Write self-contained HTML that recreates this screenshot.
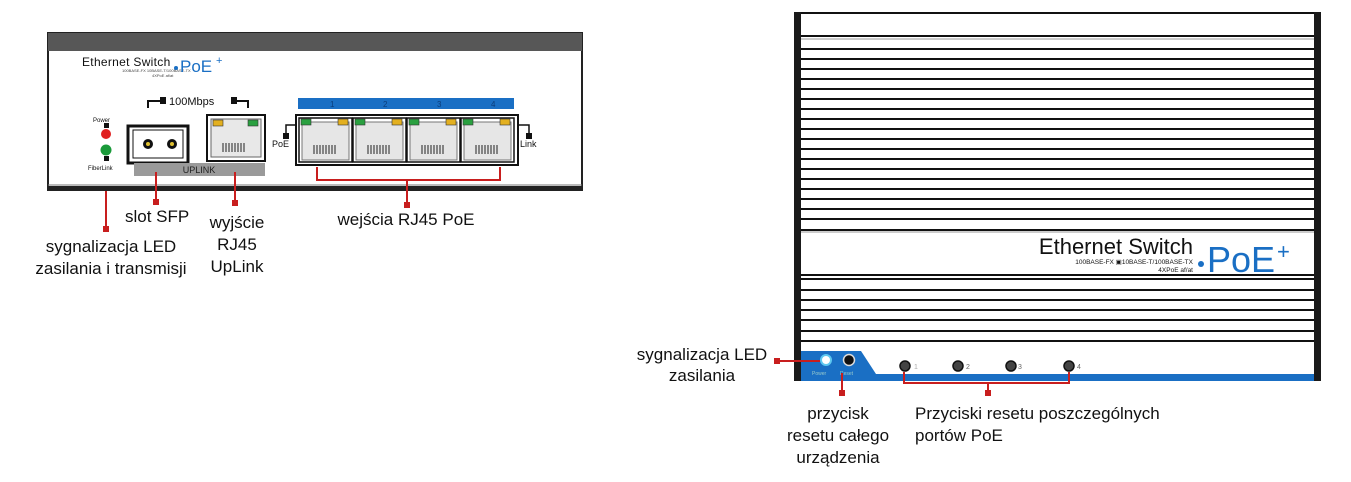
<!DOCTYPE html>
<html><head><meta charset="utf-8"><style>
html,body{margin:0;padding:0;background:#fff;width:1351px;height:482px;overflow:hidden}
svg{display:block}
text{font-family:"Liberation Sans",Arial,sans-serif}
</style></head><body>
<svg width="1351" height="482" viewBox="0 0 1351 482" xmlns="http://www.w3.org/2000/svg">
<!-- LEFT PANEL -->
<rect x="48" y="33" width="534" height="157" fill="#fff" stroke="#222" stroke-width="2"/>
<rect x="48" y="33" width="534" height="18" fill="#575757"/>
<line x1="48" y1="185" x2="582" y2="185" stroke="#777" stroke-width="1"/>
<rect x="48" y="186" width="534" height="4" fill="#222"/>
<text x="82" y="66" font-size="12" fill="#111" letter-spacing="0.3">Ethernet Switch</text>
<text x="122" y="72" font-size="4" fill="#444">100BASE-FX 10BASE-T/100BASE-TX</text>
<text x="152" y="77" font-size="4" fill="#444">4XPoE af/at</text>
<circle cx="176" cy="68" r="2" fill="#1a6fc4"/>
<text x="180" y="72" font-size="17" fill="#1a6fc4">PoE</text>
<text x="216" y="64" font-size="11" fill="#1a6fc4">+</text>
<!-- 100Mbps bracket -->
<polyline points="148,108 148,101 160,101" fill="none" stroke="#111" stroke-width="2"/>
<rect x="160" y="97" width="6" height="7" fill="#111"/>
<text x="169" y="105" font-size="11" fill="#111">100Mbps</text>
<rect x="231" y="97" width="6" height="7" fill="#111"/>
<polyline points="237,101 248,101 248,108" fill="none" stroke="#111" stroke-width="2"/>
<!-- LEDs -->
<text x="93" y="122" font-size="6" fill="#111">Power</text>
<rect x="104" y="123" width="5" height="5" fill="#111"/>
<circle cx="106" cy="134" r="5" fill="#e02020"/>
<circle cx="106" cy="150" r="5.5" fill="#1a9a3a"/>
<rect x="104" y="156" width="5" height="5" fill="#111"/>
<text x="88" y="170" font-size="6" fill="#111">FiberLink</text>
<!-- SFP -->
<rect x="128" y="126" width="60" height="37" fill="#fff" stroke="#111" stroke-width="3"/>
<rect x="133" y="130" width="50" height="28" fill="#fff" stroke="#111" stroke-width="1"/>
<circle cx="148" cy="144" r="5" fill="#111"/><circle cx="148" cy="144" r="2" fill="#e0c030"/>
<circle cx="172" cy="144" r="5" fill="#111"/><circle cx="172" cy="144" r="2" fill="#e0c030"/>
<!-- Uplink RJ45 -->
<rect x="207" y="115" width="58" height="46" fill="#fff" stroke="#111" stroke-width="2"/>
<rect x="211" y="119" width="50" height="38" fill="#e8e8e8" stroke="#666"/>
<rect x="213" y="120" width="10" height="6" fill="#e3b020" stroke="#333" stroke-width=".6"/>
<rect x="248" y="120" width="10" height="6" fill="#2aa040" stroke="#333" stroke-width=".6"/>
<g stroke="#222" stroke-width="1"><line x1="223" y1="143" x2="223" y2="152"/><line x1="226" y1="143" x2="226" y2="152"/><line x1="229" y1="143" x2="229" y2="152"/><line x1="232" y1="143" x2="232" y2="152"/><line x1="235" y1="143" x2="235" y2="152"/><line x1="238" y1="143" x2="238" y2="152"/><line x1="241" y1="143" x2="241" y2="152"/><line x1="244" y1="143" x2="244" y2="152"/></g>
<rect x="134" y="163" width="131" height="13" fill="#9a9a9a"/>
<text x="199" y="173" font-size="9" fill="#222" text-anchor="middle">UPLINK</text>
<!-- Blue port number bar -->
<rect x="298" y="98" width="216" height="11" fill="#1a6fc4"/>
<text x="330" y="107" font-size="8" fill="#0b3d7a">1</text>
<text x="383" y="107" font-size="8" fill="#0b3d7a">2</text>
<text x="437" y="107" font-size="8" fill="#0b3d7a">3</text>
<text x="491" y="107" font-size="8" fill="#0b3d7a">4</text>
<!-- PoE ports -->
<rect x="296" y="115" width="222" height="50" fill="#fff" stroke="#111" stroke-width="2"/>
<g id="p">
<rect x="299" y="118" width="53" height="44" fill="#fff" stroke="#111" stroke-width="1.5"/>
<rect x="302" y="122" width="47" height="38" fill="#e6e6e6" stroke="#777"/>
<rect x="301" y="119" width="10" height="6" fill="#2aa040" stroke="#333" stroke-width=".6"/>
<rect x="338" y="119" width="10" height="6" fill="#e3b020" stroke="#333" stroke-width=".6"/>
<g stroke="#222"><line x1="314" y1="145" x2="314" y2="154"/><line x1="317" y1="145" x2="317" y2="154"/><line x1="320" y1="145" x2="320" y2="154"/><line x1="323" y1="145" x2="323" y2="154"/><line x1="326" y1="145" x2="326" y2="154"/><line x1="329" y1="145" x2="329" y2="154"/><line x1="332" y1="145" x2="332" y2="154"/><line x1="335" y1="145" x2="335" y2="154"/></g>
</g>
<use href="#p" x="54"/><use href="#p" x="108"/><use href="#p" x="162"/>
<polyline points="296,125 286,125 286,135" fill="none" stroke="#111" stroke-width="1.5"/>
<rect x="283" y="133" width="6" height="6" fill="#111"/>
<text x="272" y="147" font-size="9" fill="#111">PoE</text>
<polyline points="518,125 529,125 529,135" fill="none" stroke="#111" stroke-width="1.5"/>
<rect x="526" y="133" width="6" height="6" fill="#111"/>
<text x="520" y="147" font-size="9" fill="#111">Link</text>
<!-- red connectors left -->
<g stroke="#c81e1e" stroke-width="2" fill="none">
<line x1="106" y1="191" x2="106" y2="228"/>
<line x1="156" y1="172" x2="156" y2="201"/>
<line x1="235" y1="172" x2="235" y2="201"/>
<polyline points="317,167 317,180 500,180 500,167"/>
<line x1="407" y1="180" x2="407" y2="203"/>
</g>
<g fill="#c81e1e">
<rect x="103" y="226" width="6" height="6"/>
<rect x="153" y="199" width="6" height="6"/>
<rect x="232" y="200" width="6" height="6"/>
<rect x="404" y="202" width="6" height="6"/>
</g>
<g font-size="17" fill="#111">
<text x="125" y="222">slot SFP</text>
<text x="237" y="228" text-anchor="middle">wyjście</text>
<text x="237" y="250" text-anchor="middle">RJ45</text>
<text x="237" y="272" text-anchor="middle">UpLink</text>
<text x="111" y="252" text-anchor="middle">sygnalizacja LED</text>
<text x="111" y="274" text-anchor="middle">zasilania i transmisji</text>
<text x="406" y="225" text-anchor="middle">wejścia RJ45 PoE</text>
</g>
<!-- RIGHT PANEL -->
<rect x="794" y="12" width="528" height="369" fill="#fff"/>
<g stroke="#111" stroke-width="2">
<line x1="800" y1="13" x2="1315" y2="13"/>
<line x1="800" y1="36" x2="1315" y2="36"/>
<line x1="800" y1="49" x2="1315" y2="49"/><line x1="800" y1="59" x2="1315" y2="59"/>
<line x1="800" y1="69" x2="1315" y2="69"/><line x1="800" y1="79" x2="1315" y2="79"/>
<line x1="800" y1="89" x2="1315" y2="89"/><line x1="800" y1="99" x2="1315" y2="99"/>
<line x1="800" y1="109" x2="1315" y2="109"/><line x1="800" y1="119" x2="1315" y2="119"/>
<line x1="800" y1="129" x2="1315" y2="129"/><line x1="800" y1="139" x2="1315" y2="139"/>
<line x1="800" y1="149" x2="1315" y2="149"/><line x1="800" y1="159" x2="1315" y2="159"/>
<line x1="800" y1="169" x2="1315" y2="169"/><line x1="800" y1="179" x2="1315" y2="179"/>
<line x1="800" y1="189" x2="1315" y2="189"/><line x1="800" y1="199" x2="1315" y2="199"/>
<line x1="800" y1="209" x2="1315" y2="209"/><line x1="800" y1="219" x2="1315" y2="219"/>
<line x1="800" y1="230" x2="1315" y2="230"/>
<line x1="800" y1="275" x2="1315" y2="275"/><line x1="800" y1="279" x2="1315" y2="279"/>
<line x1="800" y1="290" x2="1315" y2="290"/><line x1="800" y1="300" x2="1315" y2="300"/>
<line x1="800" y1="310" x2="1315" y2="310"/><line x1="800" y1="320" x2="1315" y2="320"/>
<line x1="800" y1="331" x2="1315" y2="331"/><line x1="800" y1="341" x2="1315" y2="341"/>
</g>
<g stroke="#999" stroke-width="1">
<line x1="800" y1="39" x2="1315" y2="39"/><line x1="800" y1="232" x2="1315" y2="232"/>
</g>
<rect x="794" y="12" width="7" height="369" fill="#1a1a1a"/>
<rect x="1314" y="12" width="7" height="369" fill="#1a1a1a"/>
<text x="1193" y="254" font-size="22" fill="#111" text-anchor="end">Ethernet Switch</text>
<text x="1193" y="264" font-size="6.5" fill="#111" text-anchor="end">100BASE-FX ▣10BASE-T/100BASE-TX</text>
<text x="1193" y="272" font-size="6.5" fill="#111" text-anchor="end">4XPoE af/at</text>
<circle cx="1201" cy="264" r="3" fill="#1a6fc4"/>
<text x="1207" y="272" font-size="36" fill="#1a6fc4">PoE</text>
<text x="1277" y="259" font-size="22" fill="#1a6fc4">+</text>
<!-- blue band -->
<polygon points="801,351 861,351 876,374 1314,374 1314,381 801,381" fill="#1a6fc4"/>
<circle cx="826" cy="360" r="5" fill="#fff" stroke="#5ec8f0" stroke-width="2"/>
<circle cx="849" cy="360" r="5.5" fill="#111" stroke="#ddd" stroke-width="1.5"/>
<text x="812" y="375" font-size="5" fill="#9cc">Power</text>
<text x="840" y="375" font-size="5" fill="#9cc">Reset</text>
<g fill="#444" stroke="#111" stroke-width="1.5">
<circle cx="905" cy="366" r="5"/><circle cx="958" cy="366" r="5"/>
<circle cx="1011" cy="366" r="5"/><circle cx="1069" cy="366" r="5"/>
</g>
<g font-size="7" fill="#666"><text x="914" y="369" fill="#aaa">1</text><text x="966" y="369">2</text><text x="1018" y="369">3</text><text x="1077" y="369">4</text></g>
<g stroke="#c81e1e" stroke-width="2" fill="none">
<line x1="778" y1="361" x2="820" y2="361"/>
<line x1="842" y1="373" x2="842" y2="392"/>
<polyline points="904,372 904,383 1069,383 1069,372"/>
<line x1="988" y1="383" x2="988" y2="392"/>
</g>
<g fill="#c81e1e">
<rect x="774" y="358" width="6" height="6"/>
<rect x="839" y="390" width="6" height="6"/>
<rect x="985" y="390" width="6" height="6"/>
</g>
<g font-size="17" fill="#111">
<text x="702" y="360" text-anchor="middle">sygnalizacja LED</text>
<text x="702" y="381" text-anchor="middle">zasilania</text>
<text x="838" y="419" text-anchor="middle">przycisk</text>
<text x="838" y="441" text-anchor="middle">resetu całego</text>
<text x="838" y="463" text-anchor="middle">urządzenia</text>
<text x="915" y="419">Przyciski resetu poszczególnych</text>
<text x="915" y="441">portów PoE</text>
</g>
</svg>
</body></html>
